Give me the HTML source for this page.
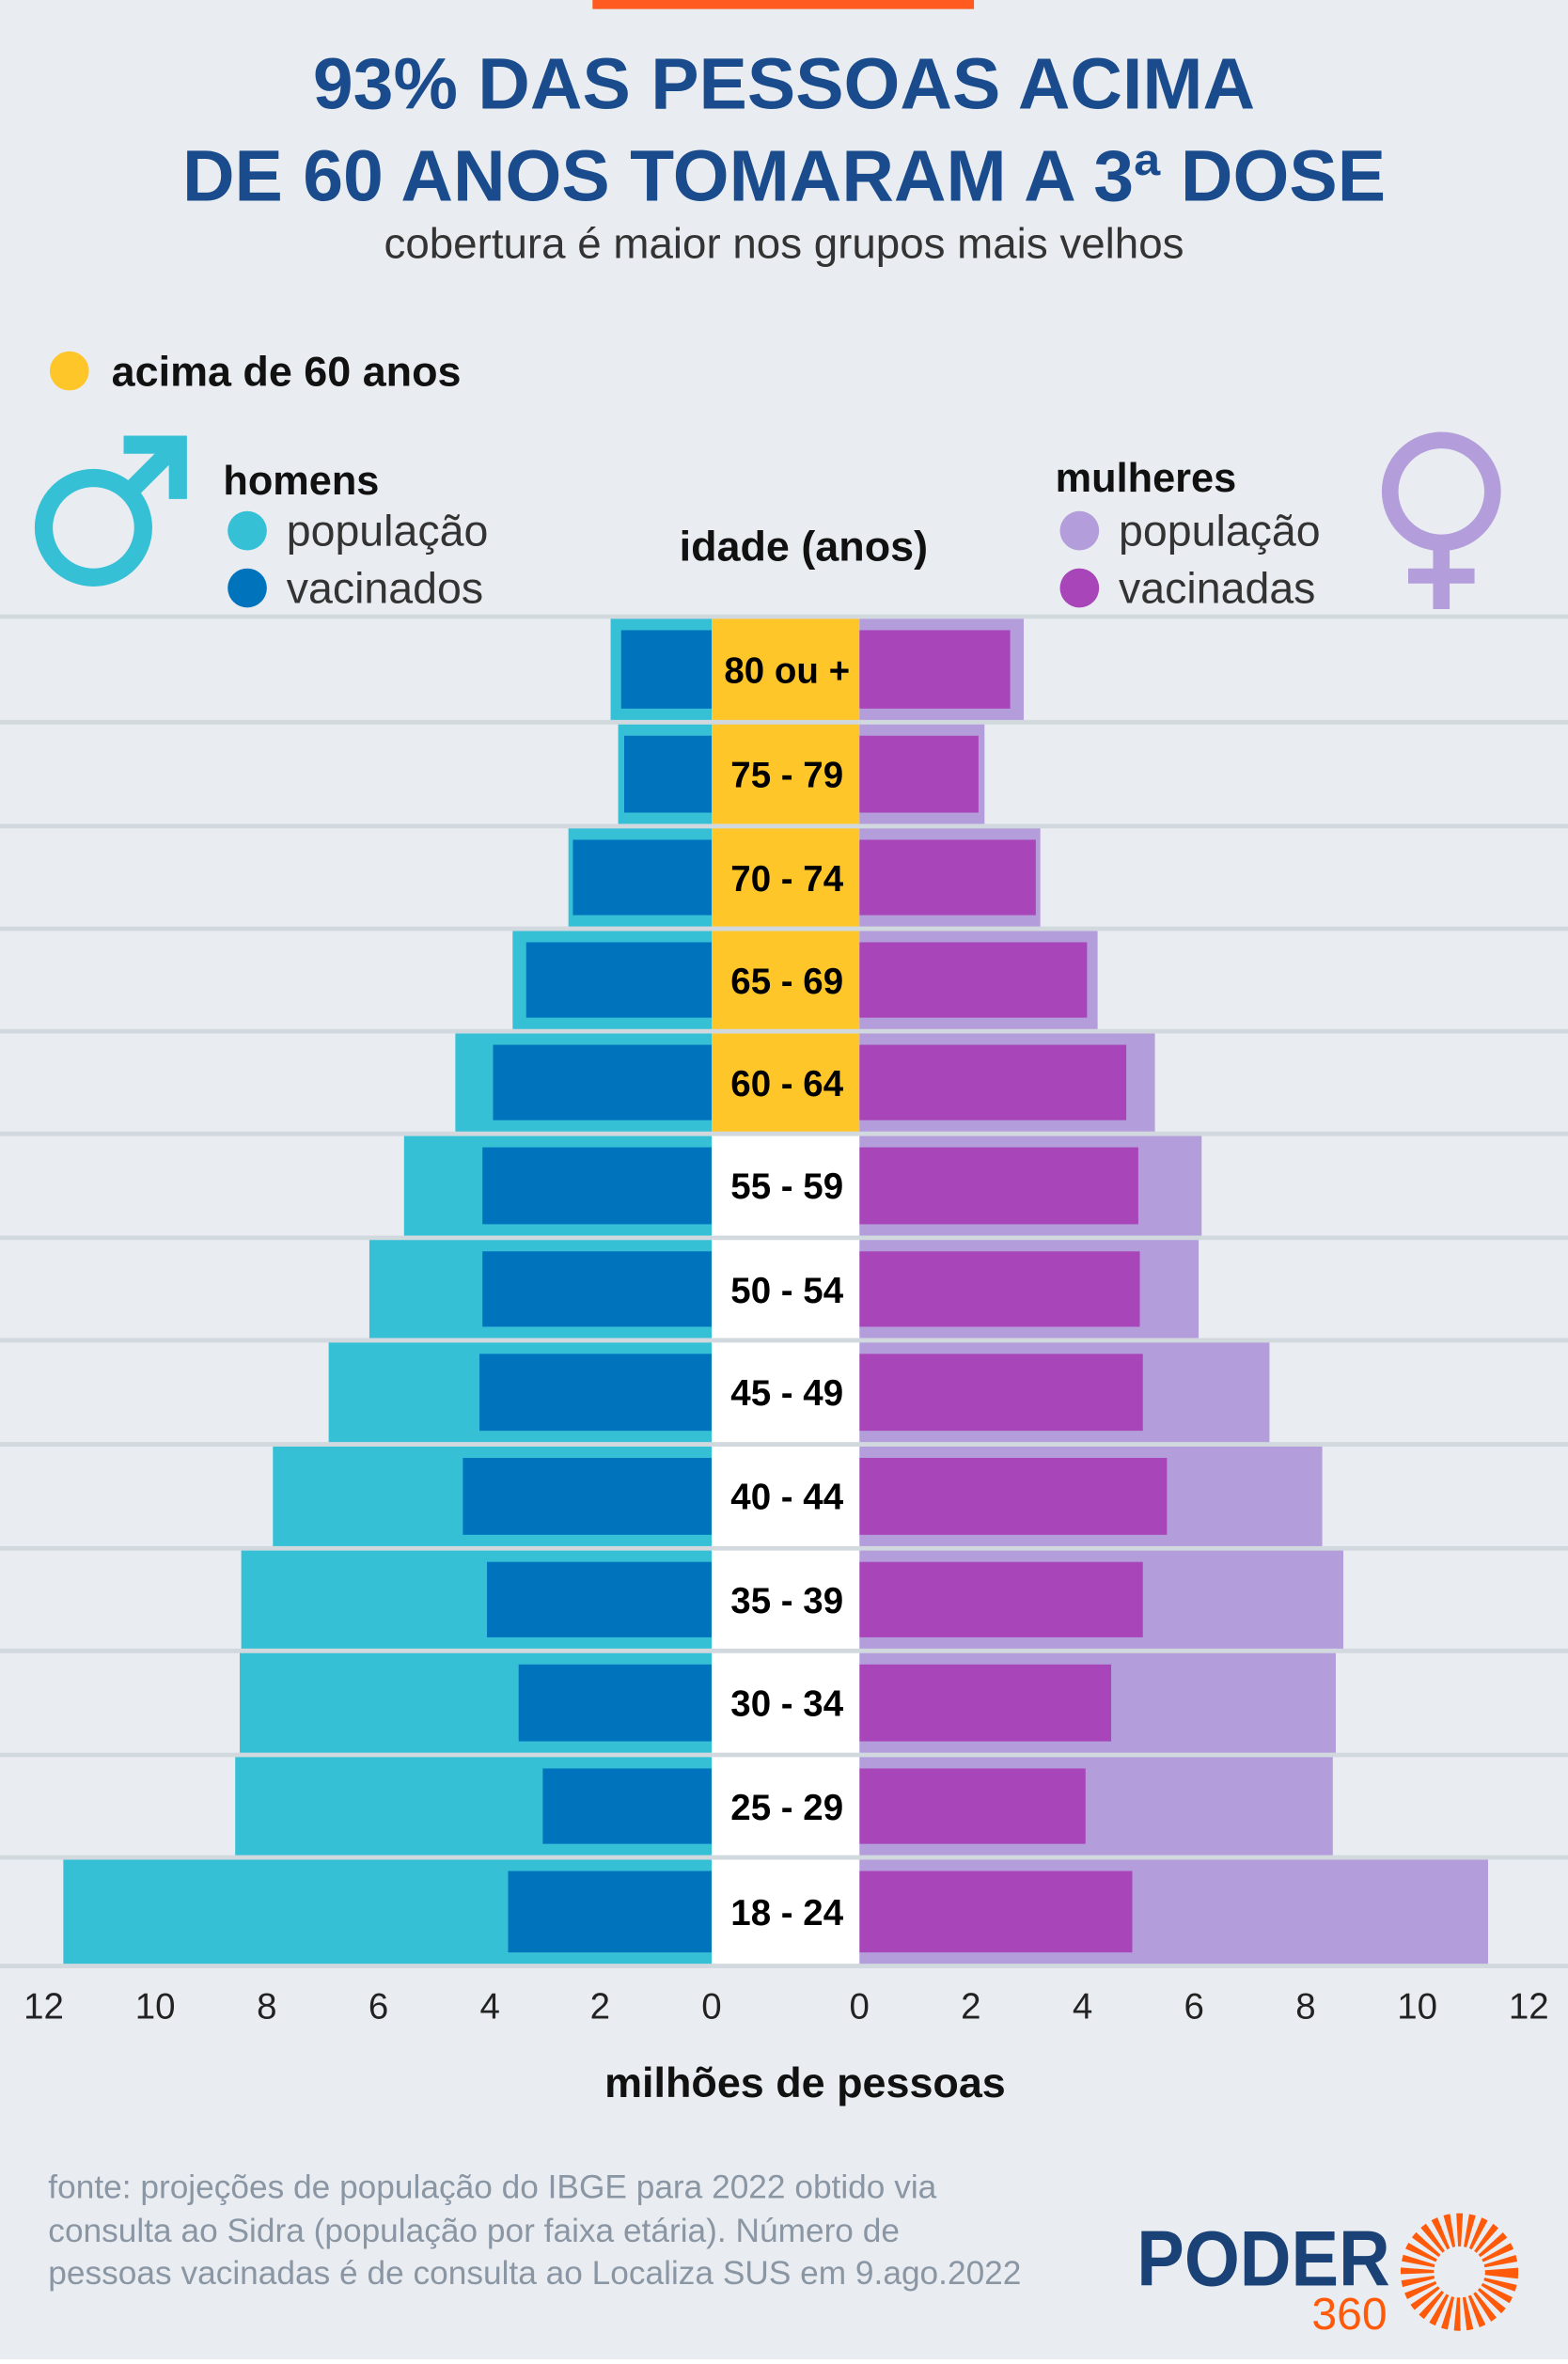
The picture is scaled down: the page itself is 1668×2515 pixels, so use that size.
<!DOCTYPE html>
<html><head><meta charset="utf-8"><style>
html,body{margin:0;padding:0;background:#e9edf1;}
svg{display:block;font-family:"Liberation Sans",sans-serif;}
</style></head><body>
<svg width="1668" height="2515" viewBox="0 0 1040 1568" preserveAspectRatio="none" xmlns="http://www.w3.org/2000/svg">
<rect x="0" y="0" width="1040" height="1568" fill="#e9edf1"/>
<rect x="0" y="1565" width="1040" height="3" fill="#fff"/>
<rect x="393" y="0" width="253" height="6" fill="#ff5a1f"/>
<g font-weight="bold" fill="#1a4b8c" font-size="48" text-anchor="middle">
<text x="520" y="72">93% DAS PESSOAS ACIMA</text>
<text x="520" y="133">DE 60 ANOS TOMARAM A 3ª DOSE</text>
</g>
<text x="520" y="171" text-anchor="middle" font-size="28.5" fill="#333">cobertura é maior nos grupos mais velhos</text>
<circle cx="46" cy="246" r="13" fill="#ffc629"/>
<text x="74" y="256" font-size="28" font-weight="bold" fill="#111">acima de 60 anos</text>
<circle cx="62" cy="350" r="33" fill="none" stroke="#36c0d6" stroke-width="12"/>
<line x1="86" y1="326" x2="118" y2="294" stroke="#36c0d6" stroke-width="12"/>
<polygon points="82,289 124,289 124,331 112,331 112,301 82,301" fill="#36c0d6"/>
<text x="148" y="328" font-size="27" font-weight="bold" fill="#111">homens</text>
<circle cx="164" cy="352" r="13" fill="#36c0d6"/>
<circle cx="164" cy="390" r="13" fill="#0073bd"/>
<text x="190" y="362" font-size="29" fill="#333">população</text>
<text x="190" y="400" font-size="29" fill="#333">vacinados</text>
<text x="533" y="372" font-size="28" font-weight="bold" fill="#111" text-anchor="middle">idade (anos)</text>
<text x="700" y="326" font-size="27" font-weight="bold" fill="#111">mulheres</text>
<circle cx="716" cy="352" r="13" fill="#b39ddb"/>
<circle cx="716" cy="390" r="13" fill="#a845b9"/>
<text x="742" y="362" font-size="29" fill="#333">população</text>
<text x="742" y="400" font-size="29" fill="#333">vacinadas</text>
<circle cx="956" cy="326" r="34" fill="none" stroke="#b39ddb" stroke-width="11"/>
<line x1="956" y1="360" x2="956" y2="404" stroke="#b39ddb" stroke-width="11"/>
<line x1="934" y1="382" x2="978" y2="382" stroke="#b39ddb" stroke-width="10"/>

<g>
<rect x="405" y="410" width="67" height="68" fill="#36c0d6"/><rect x="412" y="418" width="60" height="52" fill="#0073bd"/>
<rect x="570" y="410" width="109" height="68" fill="#b39ddb"/><rect x="570" y="418" width="100" height="52" fill="#a845b9"/>
<rect x="472" y="410" width="98" height="68" fill="#ffc629"/>

<rect x="410" y="480" width="62" height="67" fill="#36c0d6"/><rect x="414" y="488" width="58" height="51" fill="#0073bd"/>
<rect x="570" y="480" width="83" height="67" fill="#b39ddb"/><rect x="570" y="488" width="79" height="51" fill="#a845b9"/>
<rect x="472" y="480" width="98" height="67" fill="#ffc629"/>

<rect x="377" y="549" width="95" height="66" fill="#36c0d6"/><rect x="380" y="557" width="92" height="50" fill="#0073bd"/>
<rect x="570" y="549" width="120" height="66" fill="#b39ddb"/><rect x="570" y="557" width="117" height="50" fill="#a845b9"/>
<rect x="472" y="549" width="98" height="66" fill="#ffc629"/>

<rect x="340" y="617" width="132" height="66" fill="#36c0d6"/><rect x="349" y="625" width="123" height="50" fill="#0073bd"/>
<rect x="570" y="617" width="158" height="66" fill="#b39ddb"/><rect x="570" y="625" width="151" height="50" fill="#a845b9"/>
<rect x="472" y="617" width="98" height="66" fill="#ffc629"/>

<rect x="302" y="685" width="170" height="66" fill="#36c0d6"/><rect x="327" y="693" width="145" height="50" fill="#0073bd"/>
<rect x="570" y="685" width="196" height="66" fill="#b39ddb"/><rect x="570" y="693" width="177" height="50" fill="#a845b9"/>
<rect x="472" y="685" width="98" height="66" fill="#ffc629"/>

<rect x="268" y="753" width="204" height="67" fill="#36c0d6"/><rect x="320" y="761" width="152" height="51" fill="#0073bd"/>
<rect x="570" y="753" width="227" height="67" fill="#b39ddb"/><rect x="570" y="761" width="185" height="51" fill="#a845b9"/>
<rect x="472" y="753" width="98" height="67" fill="#fff"/>

<rect x="245" y="822" width="227" height="66" fill="#36c0d6"/><rect x="320" y="830" width="152" height="50" fill="#0073bd"/>
<rect x="570" y="822" width="225" height="66" fill="#b39ddb"/><rect x="570" y="830" width="186" height="50" fill="#a845b9"/>
<rect x="472" y="822" width="98" height="66" fill="#fff"/>

<rect x="218" y="890" width="254" height="67" fill="#36c0d6"/><rect x="318" y="898" width="154" height="51" fill="#0073bd"/>
<rect x="570" y="890" width="272" height="67" fill="#b39ddb"/><rect x="570" y="898" width="188" height="51" fill="#a845b9"/>
<rect x="472" y="890" width="98" height="67" fill="#fff"/>

<rect x="181" y="959" width="291" height="67" fill="#36c0d6"/><rect x="307" y="967" width="165" height="51" fill="#0073bd"/>
<rect x="570" y="959" width="307" height="67" fill="#b39ddb"/><rect x="570" y="967" width="204" height="51" fill="#a845b9"/>
<rect x="472" y="959" width="98" height="67" fill="#fff"/>

<rect x="160" y="1028" width="312" height="66" fill="#36c0d6"/><rect x="323" y="1036" width="149" height="50" fill="#0073bd"/>
<rect x="570" y="1028" width="321" height="66" fill="#b39ddb"/><rect x="570" y="1036" width="188" height="50" fill="#a845b9"/>
<rect x="472" y="1028" width="98" height="66" fill="#fff"/>

<rect x="159" y="1096" width="313" height="67" fill="#36c0d6"/><rect x="344" y="1104" width="128" height="51" fill="#0073bd"/>
<rect x="570" y="1096" width="316" height="67" fill="#b39ddb"/><rect x="570" y="1104" width="167" height="51" fill="#a845b9"/>
<rect x="472" y="1096" width="98" height="67" fill="#fff"/>

<rect x="156" y="1165" width="316" height="66" fill="#36c0d6"/><rect x="360" y="1173" width="112" height="50" fill="#0073bd"/>
<rect x="570" y="1165" width="314" height="66" fill="#b39ddb"/><rect x="570" y="1173" width="150" height="50" fill="#a845b9"/>
<rect x="472" y="1165" width="98" height="66" fill="#fff"/>

<rect x="42" y="1233" width="430" height="70" fill="#36c0d6"/><rect x="337" y="1241" width="135" height="54" fill="#0073bd"/>
<rect x="570" y="1233" width="417" height="70" fill="#b39ddb"/><rect x="570" y="1241" width="181" height="54" fill="#a845b9"/>
<rect x="472" y="1233" width="98" height="70" fill="#fff"/>
</g>
<g font-size="24" font-weight="bold" fill="#000" text-anchor="middle">
<text x="522" y="453">80 ou +</text>
<text x="522" y="522">75 - 79</text>
<text x="522" y="591">70 - 74</text>
<text x="522" y="659">65 - 69</text>
<text x="522" y="727">60 - 64</text>
<text x="522" y="795">55 - 59</text>
<text x="522" y="864">50 - 54</text>
<text x="522" y="932">45 - 49</text>
<text x="522" y="1001">40 - 44</text>
<text x="522" y="1070">35 - 39</text>
<text x="522" y="1138">30 - 34</text>
<text x="522" y="1207">25 - 29</text>
<text x="522" y="1277">18 - 24</text>
</g>
<g stroke="#d1d9de" stroke-width="3">
<line x1="0" y1="409" x2="1040" y2="409"/><line x1="0" y1="479" x2="1040" y2="479"/>
<line x1="0" y1="548" x2="1040" y2="548"/><line x1="0" y1="616" x2="1040" y2="616"/>
<line x1="0" y1="684" x2="1040" y2="684"/><line x1="0" y1="752" x2="1040" y2="752"/>
<line x1="0" y1="821" x2="1040" y2="821"/><line x1="0" y1="889" x2="1040" y2="889"/>
<line x1="0" y1="958" x2="1040" y2="958"/><line x1="0" y1="1027" x2="1040" y2="1027"/>
<line x1="0" y1="1095" x2="1040" y2="1095"/><line x1="0" y1="1164" x2="1040" y2="1164"/>
<line x1="0" y1="1232" x2="1040" y2="1232"/><line x1="0" y1="1304" x2="1040" y2="1304"/>
</g>
<g font-size="24" fill="#222" text-anchor="middle">
<text x="29" y="1339">12</text><text x="103" y="1339">10</text><text x="177" y="1339">8</text><text x="251" y="1339">6</text><text x="325" y="1339">4</text><text x="398" y="1339">2</text><text x="472" y="1339">0</text>
<text x="570" y="1339">0</text><text x="644" y="1339">2</text><text x="718" y="1339">4</text><text x="792" y="1339">6</text><text x="866" y="1339">8</text><text x="940" y="1339">10</text><text x="1014" y="1339">12</text>
</g>
<text x="534" y="1391" font-size="28" font-weight="bold" fill="#111" text-anchor="middle">milhões de pessoas</text>
<g font-size="22" fill="#8a96a3">
<text x="32" y="1458">fonte: projeções de população do IBGE para 2022 obtido via</text>
<text x="32" y="1487">consulta ao Sidra (população por faixa etária). Número de</text>
<text x="32" y="1515">pessoas vacinadas é de consulta ao Localiza SUS em 9.ago.2022</text>
</g>
<text x="754" y="1516" font-size="52" font-weight="bold" fill="#1a4276" textLength="168" lengthAdjust="spacingAndGlyphs">PODER</text>
<text x="870" y="1545" font-size="30" fill="#ff5a0a">360</text>
<circle cx="968" cy="1507" r="28" fill="none" stroke="#ff5a0a" stroke-width="22" stroke-dasharray="3.2 3"/>
</svg>
</body></html>
